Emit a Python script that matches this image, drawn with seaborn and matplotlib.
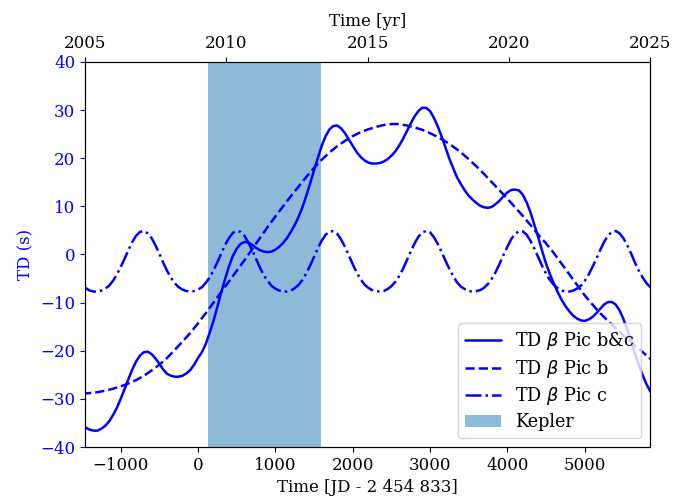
import matplotlib
matplotlib.use('Agg')
import matplotlib.pyplot as plt
import numpy as np
import seaborn as sns

sns.set_style('ticks')
plt.rcParams['font.family'] = 'serif'
plt.rcParams['font.serif'] = ['DejaVu Serif']
plt.rcParams['font.size'] = 12
plt.rcParams['text.color'] = 'black'
plt.rcParams['axes.labelcolor'] = 'black'
plt.rcParams['axes.edgecolor'] = 'black'
plt.rcParams['xtick.color'] = 'black'

# time grid in JD - 2 454 833 (days)
jd = np.arange(-1500, 5901, 50)

# light-travel-time delay of beta Pic b alone (s)
td_b = [-28.9, -28.85, -28.8, -28.7, -28.6, -28.45, -28.3, -28.1, -27.9, -27.65,
        -27.4, -27.1, -26.8, -26.45, -26.1, -25.65, -25.2, -24.65, -24.1, -23.5,
        -22.9, -22.2, -21.5, -20.65, -19.8, -18.95, -18.1, -17.2, -16.3, -15.3,
        -14.3, -13.25, -12.2, -11.1, -10.0, -8.9, -7.8, -6.7, -5.6, -4.5,
        -3.4, -2.3, -1.2, -0.05, 1.1, 2.25, 3.4, 4.55, 5.7, 6.8,
        7.9, 8.95, 10.0, 11.05, 12.1, 13.1, 14.1, 15.1, 16.1, 17.05,
        18.0, 18.85, 19.7, 20.45, 21.2, 21.85, 22.5, 23.05, 23.6, 24.1,
        24.6, 25.0, 25.4, 25.7, 26.0, 26.25, 26.5, 26.7, 26.9, 27.0,
        27.1, 27.1, 27.1, 26.95, 26.8, 26.6, 26.4, 26.15, 25.9, 25.55,
        25.2, 24.8, 24.4, 23.95, 23.5, 22.95, 22.4, 21.8, 21.2, 20.5,
        19.8, 19.05, 18.3, 17.5, 16.7, 15.85, 15.0, 14.15, 13.3, 12.45,
        11.6, 10.7, 9.8, 8.9, 8.0, 7.05, 6.1, 5.1, 4.1, 3.2,
        2.3, 1.3, 0.3, -0.8, -1.9, -3.0, -4.1, -5.2, -6.3, -7.4,
        -8.5, -9.45, -10.4, -11.3, -12.2, -13.0, -13.8, -14.55, -15.3, -16.05,
        -16.8, -17.5, -18.2, -18.9, -19.6, -20.3, -21.0, -21.7, -22.4]

# delay of beta Pic c alone (s)
td_c = [-6.3, -7.0, -7.5, -7.7, -7.7, -7.5, -7.1, -6.5, -5.5, -4.2,
        -2.6, -0.9, 0.9, 2.6, 3.9, 4.7, 4.9, 4.4, 3.4, 1.9,
        0.2, -1.7, -3.4, -4.8, -6.0, -6.8, -7.3, -7.6, -7.7, -7.6,
        -7.3, -6.8, -5.9, -4.8, -3.3, -1.6, 0.2, 2.0, 3.4, 4.5,
        4.9, 4.7, 3.9, 2.5, 0.9, -0.9, -2.7, -4.3, -5.5, -6.5,
        -7.1, -7.5, -7.7, -7.7, -7.5, -7.0, -6.3, -5.3, -3.9, -2.3,
        -0.5, 1.3, 2.9, 4.1, 4.8, 4.85, 4.3, 3.1, 1.6, -0.2,
        -2.0, -3.7, -5.1, -6.2, -6.9, -7.4, -7.6, -7.7, -7.6, -7.2,
        -6.6, -5.7, -4.5, -3.0, -1.2, 0.6, 2.3, 3.7, 4.6, 4.9,
        4.6, 3.6, 2.2, 0.5, -1.3, -3.0, -4.5, -5.8, -6.7, -7.2,
        -7.6, -7.7, -7.6, -7.4, -6.9, -6.1, -5.0, -3.6, -1.9, -0.1,
        1.6, 3.2, 4.3, 4.85, 4.8, 4.1, 2.8, 1.2, -0.6, -2.4,
        -4.0, -5.3, -6.3, -7.0, -7.5, -7.7, -7.7, -7.5, -7.1, -6.5,
        -5.5, -4.2, -2.6, -0.9, 0.9, 2.6, 3.9, 4.7, 4.9, 4.4,
        3.4, 1.9, 0.2, -1.7, -3.4, -4.8, -6.0, -6.8, -7.3]

# combined delay of b and c (s)
td_bc = [-35.2, -36.0, -36.4, -36.6, -36.6, -36.2, -35.6, -34.7, -33.4, -31.9,
         -30.0, -28.0, -25.9, -23.9, -22.2, -21.0, -20.3, -20.2, -20.7, -21.6,
         -22.7, -23.9, -24.8, -25.2, -25.4, -25.4, -25.2, -24.7, -24.0, -22.9,
         -21.5, -20.3, -18.6, -16.3, -13.8, -10.9, -7.9, -5.1, -2.5, -0.3,
         1.2, 2.2, 2.6, 2.5, 2.0, 1.4, 0.9, 0.6, 0.5, 0.6,
         1.0, 1.6, 2.4, 3.4, 4.7, 6.1, 7.8, 9.8, 12.2, 14.8,
         17.5, 20.1, 22.6, 24.6, 26.0, 26.7, 26.8, 26.2, 25.2, 23.9,
         22.6, 21.3, 20.3, 19.6, 19.1, 18.9, 18.9, 19.0, 19.3, 19.8,
         20.5, 21.4, 22.6, 24.0, 25.6, 27.2, 28.7, 29.8, 30.5, 30.45,
         29.8, 28.4, 26.6, 24.5, 22.2, 19.9, 17.9, 16.0, 14.6, 13.3,
         12.2, 11.4, 10.7, 10.1, 9.8, 9.7, 9.9, 10.5, 11.2, 12.1,
         12.9, 13.4, 13.5, 13.3, 12.4, 10.8, 8.7, 6.1, 3.5, 0.7,
         -1.9, -4.1, -6.0, -7.8, -9.4, -10.7, -11.8, -12.7, -13.3, -13.7,
         -13.8, -13.5, -13.0, -12.2, -11.3, -10.4, -9.9, -9.85, -10.4, -11.6,
         -13.4, -15.6, -18.0, -20.6, -23.0, -25.1, -27.0, -28.5, -29.7]

kepler_start, kepler_end = 125, 1590

fig = plt.figure(figsize=(6.78, 4.97), dpi=100)
ax = fig.add_axes([0.1254, 0.1006, 0.8333, 0.7747])

sns.lineplot(x=jd, y=td_bc, ax=ax, color='blue', lw=1.8, ls='-',
             label=r'TD $\beta$ Pic b&c')
sns.lineplot(x=jd, y=td_b, ax=ax, color='blue', lw=1.8, ls='--',
             label=r'TD $\beta$ Pic b')
sns.lineplot(x=jd, y=td_c, ax=ax, color='blue', lw=1.8, ls='-.',
             label=r'TD $\beta$ Pic c')
ax.axvspan(kepler_start, kepler_end, color='#1f77b4', alpha=0.5, lw=0,
           label='Kepler')

ax.set_xlim(-1461, 5844)
ax.set_ylim(-40, 40)
ax.set_xticks([-1000, 0, 1000, 2000, 3000, 4000, 5000])
ax.set_yticks(np.arange(-40, 41, 10))
ax.set_xlabel('Time [JD - 2 454 833]', fontsize=12)
ax.set_ylabel('TD (s)', fontsize=12, color='blue')
ax.tick_params(axis='y', colors='blue', labelsize=12)
ax.tick_params(axis='x', colors='black', labelsize=12)
ax.legend(loc='lower right', fontsize=12.7, frameon=True, fancybox=True,
          framealpha=0.8, edgecolor='0.8', labelspacing=0.32)

ax2 = ax.twiny()
ax2.set_xlim(2005, 2025)
ax2.set_xticks([2005, 2010, 2015, 2020, 2025])
ax2.set_xlabel('Time [yr]', fontsize=12, labelpad=7)
ax2.tick_params(axis='x', colors='black', labelsize=12)

fig.savefig('out.png', dpi=100)
